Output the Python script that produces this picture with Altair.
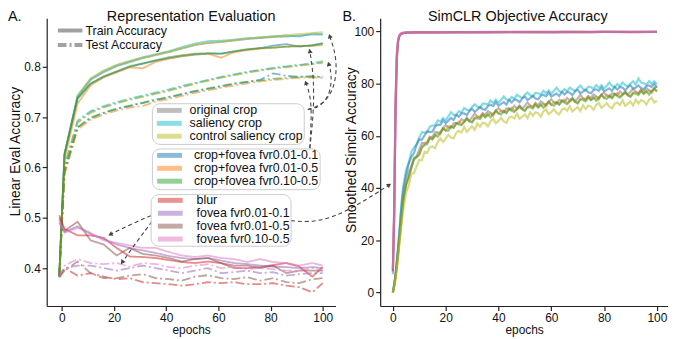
import altair as alt
import pandas as pd

FONT = "Liberation Sans"

# ---------------- Panel A data ----------------
EPOCHS_A = [-1, 1, 6, 11, 16, 21, 26, 31, 36, 41, 46, 51, 56, 61, 66, 71, 76, 81, 86, 91, 96, 100]

CROP_NAMES = ["original crop", "saliency crop", "control saliency crop"]
CROP_COLORS = ["#7f7f7f", "#17becf", "#bcbd22"]
CF_NAMES = ["crop+fovea fvr0.01-0.1", "crop+fovea fvr0.01-0.5", "crop+fovea fvr0.10-0.5"]
CF_COLORS = ["#1f77b4", "#ff7f0e", "#2ca02c"]
FOV_NAMES = ["blur", "fovea fvr0.01-0.1", "fovea fvr0.01-0.5", "fovea fvr0.10-0.5"]
FOV_COLORS = ["#d62728", "#9467bd", "#8c564b", "#e377c2"]

TRAIN = {
    "original crop": [0.385, 0.625, 0.740, 0.774, 0.789, 0.801, 0.809, 0.817, 0.823, 0.829, 0.836, 0.843, 0.847, 0.849, 0.852, 0.855, 0.857, 0.859, 0.860, 0.862, 0.864, 0.864],
    "saliency crop": [0.385, 0.627, 0.743, 0.776, 0.791, 0.803, 0.811, 0.819, 0.825, 0.831, 0.839, 0.846, 0.851, 0.852, 0.854, 0.857, 0.858, 0.861, 0.862, 0.860, 0.866, 0.865],
    "control saliency crop": [0.385, 0.622, 0.741, 0.777, 0.793, 0.804, 0.812, 0.818, 0.824, 0.830, 0.837, 0.844, 0.848, 0.850, 0.853, 0.856, 0.859, 0.860, 0.863, 0.865, 0.867, 0.869],
    "crop+fovea fvr0.01-0.1": [0.385, 0.624, 0.736, 0.766, 0.780, 0.790, 0.800, 0.806, 0.812, 0.817, 0.821, 0.824, 0.826, 0.826, 0.830, 0.834, 0.837, 0.842, 0.845, 0.840, 0.843, 0.847],
    "crop+fovea fvr0.01-0.5": [0.385, 0.615, 0.727, 0.763, 0.779, 0.789, 0.799, 0.797, 0.810, 0.816, 0.821, 0.825, 0.826, 0.818, 0.829, 0.833, 0.836, 0.838, 0.840, 0.841, 0.842, 0.843],
    "crop+fovea fvr0.10-0.5": [0.385, 0.628, 0.738, 0.767, 0.781, 0.791, 0.801, 0.807, 0.813, 0.819, 0.823, 0.826, 0.827, 0.826, 0.831, 0.835, 0.837, 0.838, 0.840, 0.841, 0.842, 0.846],
    "blur": [0.505, 0.478, 0.465, 0.465, 0.460, 0.440, 0.423, 0.422, 0.420, 0.416, 0.412, 0.410, 0.413, 0.410, 0.400, 0.400, 0.402, 0.406, 0.410, 0.403, 0.383, 0.402],
    "fovea fvr0.01-0.1": [0.490, 0.472, 0.483, 0.468, 0.458, 0.447, 0.440, 0.435, 0.430, 0.424, 0.420, 0.418, 0.420, 0.415, 0.410, 0.408, 0.405, 0.403, 0.402, 0.400, 0.402, 0.400],
    "fovea fvr0.01-0.5": [0.500, 0.474, 0.492, 0.455, 0.447, 0.425, 0.440, 0.428, 0.425, 0.420, 0.413, 0.418, 0.420, 0.410, 0.405, 0.405, 0.400, 0.405, 0.390, 0.395, 0.395, 0.395],
    "fovea fvr0.10-0.5": [0.495, 0.470, 0.480, 0.470, 0.455, 0.450, 0.445, 0.440, 0.440, 0.432, 0.425, 0.422, 0.425, 0.420, 0.418, 0.412, 0.418, 0.412, 0.410, 0.405, 0.410, 0.405],
}
TEST = {
    "original crop": [0.383, 0.600, 0.690, 0.710, 0.720, 0.728, 0.735, 0.741, 0.747, 0.753, 0.760, 0.767, 0.773, 0.779, 0.784, 0.789, 0.793, 0.797, 0.800, 0.803, 0.806, 0.809],
    "saliency crop": [0.383, 0.603, 0.693, 0.712, 0.722, 0.730, 0.737, 0.743, 0.749, 0.755, 0.762, 0.768, 0.774, 0.780, 0.785, 0.790, 0.794, 0.798, 0.801, 0.804, 0.807, 0.811],
    "control saliency crop": [0.383, 0.598, 0.688, 0.708, 0.719, 0.727, 0.734, 0.740, 0.746, 0.752, 0.759, 0.766, 0.772, 0.778, 0.783, 0.788, 0.792, 0.796, 0.799, 0.802, 0.805, 0.808],
    "crop+fovea fvr0.01-0.1": [0.383, 0.590, 0.679, 0.698, 0.708, 0.716, 0.722, 0.728, 0.734, 0.739, 0.745, 0.751, 0.756, 0.761, 0.766, 0.770, 0.774, 0.787, 0.782, 0.780, 0.781, 0.780],
    "crop+fovea fvr0.01-0.5": [0.383, 0.585, 0.675, 0.695, 0.705, 0.713, 0.719, 0.722, 0.731, 0.736, 0.742, 0.748, 0.753, 0.758, 0.763, 0.767, 0.771, 0.774, 0.776, 0.778, 0.779, 0.778],
    "crop+fovea fvr0.10-0.5": [0.383, 0.592, 0.680, 0.699, 0.709, 0.717, 0.723, 0.729, 0.735, 0.740, 0.746, 0.752, 0.757, 0.762, 0.767, 0.770, 0.773, 0.776, 0.778, 0.780, 0.781, 0.779],
    "blur": [0.382, 0.400, 0.385, 0.390, 0.383, 0.378, 0.380, 0.372, 0.370, 0.368, 0.365, 0.368, 0.372, 0.370, 0.372, 0.368, 0.368, 0.370, 0.365, 0.362, 0.352, 0.370],
    "fovea fvr0.01-0.1": [0.382, 0.400, 0.405, 0.405, 0.400, 0.395, 0.400, 0.405, 0.400, 0.395, 0.390, 0.395, 0.400, 0.390, 0.392, 0.395, 0.390, 0.392, 0.385, 0.388, 0.390, 0.390],
    "fovea fvr0.01-0.5": [0.382, 0.395, 0.413, 0.390, 0.380, 0.380, 0.385, 0.388, 0.380, 0.378, 0.375, 0.383, 0.386, 0.380, 0.378, 0.382, 0.375, 0.380, 0.372, 0.370, 0.378, 0.380],
    "fovea fvr0.10-0.5": [0.382, 0.405, 0.418, 0.410, 0.408, 0.410, 0.403, 0.410, 0.408, 0.402, 0.400, 0.405, 0.408, 0.400, 0.402, 0.398, 0.400, 0.398, 0.395, 0.395, 0.400, 0.395],
}
SPLITS = ["Train Accuracy", "Test Accuracy"]

# annotation arrows (in panel-A data units: epoch, accuracy)
ARROW_PATHS = {
    "a1": [(94.29, 0.7152), (99.62, 0.7231), (104.57, 0.7546), (105.71, 0.8138), (102.67, 0.8611)],
    "a2": [(94.29, 0.7152), (98.85, 0.7191), (103.04, 0.7467), (103.42, 0.7862), (102.28, 0.8059)],
    "a3": [(95.05, 0.6383), (96.57, 0.7112), (96.57, 0.7803), (95.05, 0.8316)],
    "a4": [(95.05, 0.6383), (95.81, 0.7112), (95.05, 0.7467), (93.53, 0.7684)],
    "a5": [(34.15, 0.5041), (27.67, 0.4903), (18.54, 0.4667)],
    "a6": [(34.53, 0.4923), (29.58, 0.4588), (23.11, 0.4114)],
    "a7": [(87.82, 0.4943), (96.19, 0.4903), (107.6, 0.5061), (125.5, 0.5653)],
}
ARROW_HEAD_ANGLE = {"a1": 342, "a2": 343, "a3": 351, "a4": 340, "a5": 243, "a6": 215, "a7": 57}

# ---------------- Panel B data ----------------
EPOCHS_B = [0, 0.5, 1, 1.5, 2, 2.5, 3, 3.5, 4] + list(range(5, 101))
SIM = {
    "saliency crop": [0, 3, 7, 12, 18, 24, 31, 37, 41,
        47.0, 49.6, 53.9, 55.5, 56.8, 59.3, 61.4, 61.2, 61.4, 63.5, 63.9, 64.0, 65.9, 65.4, 66.8, 65.9, 67.4, 69.0, 68.0, 67.9,
        69.4, 68.9, 70.6, 70.0, 69.7, 71.0, 72.1, 71.1, 70.7, 72.3, 72.3, 71.9, 73.5, 72.6, 73.8, 72.6, 73.8, 75.1, 73.9, 73.6,
        74.9, 74.2, 75.7, 75.0, 74.5, 75.7, 76.6, 75.5, 75.0, 76.4, 76.3, 75.8, 77.3, 76.3, 77.4, 76.1, 77.2, 78.4, 77.1, 76.7,
        77.9, 77.1, 78.5, 77.7, 77.2, 78.3, 79.2, 78.0, 77.4, 78.8, 78.6, 78.0, 79.4, 78.4, 79.4, 78.1, 79.2, 80.4, 79.1, 78.6,
        79.8, 79.0, 80.4, 79.5, 78.9, 80.0, 80.9, 79.6, 81.9, 80.4, 80.1, 79.6, 80.9, 79.9, 80.8, 79.8],
    "crop+fovea fvr0.01-0.1": [0, 2.8, 6.5, 11.5, 17, 23, 29.5, 35, 39.5,
        44.9, 49.3, 51.9, 53.4, 56.6, 58.6, 58.5, 60.1, 61.7, 61.4, 61.6, 63.5, 64.3, 64.2, 65.9, 64.8, 65.8, 66.8, 66.1, 68.0,
        67.3, 68.6, 68.6, 67.9, 69.5, 70.3, 69.2, 70.0, 71.0, 70.2, 70.0, 71.4, 71.9, 71.4, 72.9, 71.5, 72.2, 72.9, 72.0, 73.7,
        72.8, 73.9, 73.7, 72.9, 74.3, 75.0, 73.7, 74.4, 75.3, 74.3, 74.0, 75.3, 75.7, 75.1, 76.5, 75.0, 75.6, 76.2, 75.2, 76.8,
        75.8, 76.8, 76.5, 75.6, 77.0, 77.6, 76.3, 76.9, 77.7, 76.7, 76.3, 77.5, 77.8, 77.2, 78.5, 77.0, 77.6, 78.2, 77.2, 78.7,
        77.7, 78.7, 78.4, 77.4, 78.7, 79.3, 78.0, 78.5, 79.3, 78.3, 77.8, 79.1, 79.3, 78.7, 79.9, 78.4],
    "original crop": [0, 2.6, 6.2, 10.8, 16, 21.5, 27, 32, 36.5,
        41.4, 46.2, 48.1, 51.5, 52.1, 54.8, 57.3, 57.1, 57.6, 59.6, 59.5, 61.5, 61.3, 61.2, 62.8, 64.1, 63.3, 63.1, 64.8, 64.9,
        64.7, 66.4, 65.6, 66.9, 65.8, 67.1, 68.5, 67.4, 67.2, 68.6, 67.9, 69.5, 68.8, 68.3, 69.6, 70.6, 69.5, 69.0, 70.5, 70.4,
        70.0, 71.5, 70.5, 71.6, 70.4, 71.5, 72.8, 71.6, 71.2, 72.5, 71.7, 73.2, 72.4, 71.9, 73.0, 74.0, 72.8, 72.3, 73.7, 73.5,
        73.1, 74.5, 73.5, 74.6, 73.3, 74.4, 75.7, 74.4, 74.0, 75.2, 74.5, 75.9, 75.1, 74.5, 75.7, 76.6, 75.4, 74.8, 76.2, 76.1,
        75.6, 77.0, 76.0, 77.0, 75.8, 76.9, 78.1, 76.8, 76.4, 77.7, 76.9, 78.3, 77.5, 77.0, 78.1, 79.0],
    "crop+fovea fvr0.01-0.5": [0, 2.4, 5.8, 9.8, 14.5, 20, 25, 30, 35,
        42.2, 44.3, 47.8, 51.0, 51.9, 53.1, 55.7, 57.1, 57.4, 59.5, 58.7, 59.9, 61.1, 60.6, 62.7, 62.1, 63.5, 63.6, 63.0, 64.6,
        65.5, 64.5, 65.3, 66.4, 65.6, 65.4, 66.9, 67.4, 67.0, 68.5, 67.1, 67.9, 68.6, 67.7, 69.5, 68.6, 69.7, 69.5, 68.7, 70.1,
        70.8, 69.6, 70.2, 71.1, 70.2, 69.8, 71.2, 71.6, 71.0, 72.4, 70.9, 71.6, 72.2, 71.3, 72.9, 72.0, 73.0, 72.8, 71.9, 73.2,
        73.9, 72.6, 73.2, 74.1, 73.1, 72.7, 74.1, 74.4, 73.8, 75.1, 73.7, 74.3, 74.9, 73.9, 75.6, 74.6, 75.6, 75.3, 74.4, 75.8,
        76.4, 75.1, 75.7, 76.5, 75.6, 75.2, 76.5, 76.8, 76.2, 77.6, 76.1, 76.7, 77.3, 76.4, 78.0, 77.0],
    "crop+fovea fvr0.10-0.5": [0, 2.5, 6, 10, 15, 20.5, 25.5, 30.5, 35.5,
        41.0, 43.8, 47.8, 51.1, 51.8, 52.8, 55.5, 56.4, 56.8, 59.0, 58.7, 60.3, 59.6, 61.2, 62.9, 62.0, 62.0, 63.6, 63.1, 64.8,
        64.3, 64.0, 65.3, 66.5, 65.5, 65.1, 66.7, 66.7, 66.4, 68.0, 67.1, 68.3, 67.1, 68.3, 69.7, 68.5, 68.2, 69.5, 68.8, 70.3,
        69.6, 69.1, 70.2, 71.2, 70.1, 69.5, 71.0, 70.9, 70.4, 71.9, 70.9, 72.0, 70.7, 71.9, 73.1, 71.9, 71.5, 72.8, 72.0, 73.4,
        72.7, 72.1, 73.2, 74.2, 73.0, 72.4, 73.9, 73.7, 73.2, 74.6, 73.7, 74.7, 73.4, 74.5, 75.8, 74.5, 74.1, 75.3, 74.5, 76.0,
        75.2, 74.6, 75.7, 76.6, 75.5, 74.9, 76.3, 76.1, 75.6, 77.1, 76.1, 77.1, 75.8, 77.0, 78.2, 76.9],
    "control saliency crop": [0, 2, 5, 9, 13.5, 18.5, 23.5, 28, 32,
        38.2, 40.7, 45.4, 45.7, 48.4, 50.8, 50.6, 53.9, 53.5, 55.6, 55.9, 55.3, 57.7, 59.0, 57.6, 58.9, 60.4, 59.3, 59.0, 61.2,
        61.9, 61.3, 63.4, 61.5, 62.6, 63.6, 62.3, 64.7, 63.5, 65.0, 64.8, 63.6, 65.6, 66.5, 64.8, 65.7, 66.9, 65.5, 65.0, 66.9,
        67.4, 66.6, 68.5, 66.5, 67.3, 68.2, 66.8, 69.0, 67.7, 69.0, 68.7, 67.4, 69.3, 70.1, 68.3, 69.1, 70.2, 68.8, 68.2, 70.0,
        70.5, 69.6, 71.4, 69.3, 70.2, 71.0, 69.5, 71.7, 70.3, 71.6, 71.2, 70.0, 71.8, 72.6, 70.7, 71.5, 72.6, 71.1, 70.5, 72.3,
        72.7, 71.8, 73.6, 71.5, 72.3, 73.1, 71.6, 73.8, 72.4, 73.7, 73.3, 72.0, 73.8, 74.6, 72.7, 73.5],
}
EPOCHS_B_TOP = [0, 0.5, 1, 1.5, 2, 2.5, 3, 4, 5, 7, 10, 15, 20, 25, 30, 35, 40, 45, 50, 55, 60, 65, 70, 75, 80, 85, 90, 95, 100]
SIM_TOP = {
    "blur": [8.5, 30, 70, 90, 96.5, 98.3, 99.0, 99.4, 99.5, 99.6, 99.6, 99.7, 99.6, 99.7, 99.7, 99.6, 99.7, 99.8, 99.7, 99.7, 99.8, 99.7, 99.8, 99.7, 99.8, 99.8, 99.7, 99.8, 99.8],
    "fovea fvr0.01-0.1": [7.0, 28, 68, 89, 96.0, 98.2, 98.9, 99.3, 99.5, 99.5, 99.6, 99.6, 99.7, 99.6, 99.7, 99.7, 99.7, 99.7, 99.8, 99.7, 99.7, 99.8, 99.7, 99.8, 99.8, 99.7, 99.8, 99.8, 99.8],
    "fovea fvr0.01-0.5": [8.0, 31, 71, 91, 96.8, 98.4, 99.1, 99.4, 99.5, 99.6, 99.7, 99.6, 99.7, 99.7, 99.6, 99.7, 99.8, 99.7, 99.7, 99.8, 99.7, 99.8, 99.8, 99.7, 99.8, 99.8, 99.8, 99.7, 99.8],
    "fovea fvr0.10-0.5": [9.0, 33, 73, 92, 97.0, 98.5, 99.1, 99.5, 99.6, 99.6, 99.6, 99.7, 99.7, 99.6, 99.7, 99.8, 99.7, 99.7, 99.8, 99.8, 99.7, 99.8, 99.7, 99.8, 99.8, 99.8, 99.7, 99.8, 99.8],
}

for k, v in SIM.items():
    assert len(v) == len(EPOCHS_B), (k, len(v))
for k, v in SIM_TOP.items():
    assert len(v) == len(EPOCHS_B_TOP), (k, len(v))

# ---------------- build tables ----------------
def group_table(names):
    rows = []
    for n in names:
        for split, src in (("Train Accuracy", TRAIN), ("Test Accuracy", TEST)):
            for e, a in zip(EPOCHS_A, src[n]):
                rows.append({"epoch": e, "acc": a, "cond": n, "split": split})
    return pd.DataFrame(rows)

arrow_rows, head_rows = [], []
for aid, pts in ARROW_PATHS.items():
    for i, (e, a) in enumerate(pts):
        arrow_rows.append({"id": aid, "i": i, "epoch": e, "acc": a})
    head_rows.append({"id": aid, "epoch": pts[-1][0], "acc": pts[-1][1], "ang": ARROW_HEAD_ANGLE[aid]})
arrows_df = pd.DataFrame(arrow_rows)
heads_df = pd.DataFrame(head_rows)

b_rows = []
for n, vals in SIM.items():
    for e, v in zip(EPOCHS_B, vals):
        b_rows.append({"epoch": e, "acc": v, "cond": n})
for n, vals in SIM_TOP.items():
    for e, v in zip(EPOCHS_B_TOP, vals):
        b_rows.append({"epoch": e, "acc": v, "cond": n})
b_df = pd.DataFrame(b_rows)

ALL_NAMES = CROP_NAMES + CF_NAMES + FOV_NAMES
ALL_COLORS = CROP_COLORS + CF_COLORS + FOV_COLORS

# ---------------- scales / axes ----------------
xA = alt.Scale(domain=[-5.82, 104.9], nice=False, zero=False)
yA = alt.Scale(domain=[0.3247, 0.8966], nice=False, zero=False)
axA_x = alt.Axis(values=[0, 20, 40, 60, 80, 100], format="d", title="epochs", titleFontSize=12, titlePadding=1.5)
axA_y = alt.Axis(values=[0.4, 0.5, 0.6, 0.7, 0.8], format=".1f", title="Linear Eval Accuracy",
                 titleFontSize=14, titlePadding=1.2, titleY=134)

LINE_PATH = "M-2.5,0H7.5"
dash_scale = alt.Scale(domain=SPLITS, range=[[1, 0], [9, 3, 2, 3]])
dash_legend = alt.Legend(title=None, orient="none", legendX=11, legendY=6.25, symbolType=LINE_PATH,
                         symbolSize=25, symbolStrokeWidth=4, symbolStrokeColor="#8a8a8a",
                         symbolOpacity=0.8, labelOffset=15.5, rowPadding=1.5, padding=0, clipHeight=12.5,
                         strokeColor="transparent", fillColor="transparent")

PAD2 = "\u00a0\u00a0"


def color_legend(lx, ly, pad, sym_off, lab_off, extra):
    return alt.Legend(title=None, orient="none", legendX=lx, legendY=ly, symbolType=LINE_PATH,
                      symbolSize=25, symbolStrokeWidth=5, symbolOpacity=0.5, labelOffset=lab_off,
                      symbolOffset=sym_off, clipHeight=12.5, rowPadding=0, padding=pad,
                      labelExpr="datum.label + '" + extra + "'",
                      cornerRadius=8, strokeColor="#cccccc", fillColor="rgba(255,255,255,0.8)")


def group_layer(names, colors, legend):
    return alt.Chart(group_table(names)).mark_line(strokeWidth=1.8, opacity=0.55, clip=False).encode(
        x=alt.X("epoch:Q", scale=xA, axis=axA_x),
        y=alt.Y("acc:Q", scale=yA, axis=axA_y),
        color=alt.Color("cond:N", scale=alt.Scale(domain=names, range=colors), legend=legend),
        strokeDash=alt.StrokeDash("split:N", scale=dash_scale, legend=dash_legend),
    )


l_crop = group_layer(CROP_NAMES, CROP_COLORS, color_legend(106, 85.7, 1, 4, 20.5, PAD2))
l_cf = group_layer(CF_NAMES, CF_COLORS, color_legend(106, 131.3, 0.7, 4.6, 24.5, ""))
l_fov = group_layer(FOV_NAMES, FOV_COLORS, color_legend(104.7, 177.3, 0, 7.3, 26.5, PAD2))

arrows = alt.Chart(arrows_df).mark_line(strokeDash=[4, 3], color="#444444", strokeWidth=1.1,
                                        interpolate="basis", clip=False).encode(
    x=alt.X("epoch:Q", scale=xA), y=alt.Y("acc:Q", scale=yA), detail="id:N", order="i:Q")
heads = alt.Chart(heads_df).mark_point(shape="triangle-up", filled=True, size=26, color="#444444",
                                       opacity=1, clip=False).encode(
    x=alt.X("epoch:Q", scale=xA), y=alt.Y("acc:Q", scale=yA), angle=alt.Angle("ang:Q", scale=None))


def text_layer(txt, x, y, size, align):
    return alt.Chart(pd.DataFrame({"t": [txt]})).mark_text(
        align=align, baseline="top", fontSize=size, font=FONT, color="#111111").encode(
        text="t:N", x=alt.value(x), y=alt.value(y))


panel_a = alt.layer(
    l_crop, l_cf, l_fov, arrows, heads,
    text_layer("A.", -39, -8, 14.5, "left"),
    text_layer("Representation Evaluation", 145.5, -8, 14.5, "center"),
).resolve_scale(color="independent").properties(width=291, height=290)

# ---------------- Panel B ----------------
xB = alt.Scale(domain=[-4.8, 104.2], nice=False, zero=False)
yB = alt.Scale(domain=[-5.21, 105.06], nice=False, zero=False)
lines_b = alt.Chart(b_df).mark_line(strokeWidth=2.2, opacity=0.55, clip=False).encode(
    x=alt.X("epoch:Q", scale=xB, axis=alt.Axis(values=[0, 20, 40, 60, 80, 100], format="d", title="epochs",
                                                titleFontSize=12, titlePadding=1.5)),
    y=alt.Y("acc:Q", scale=yB, axis=alt.Axis(values=[0, 20, 40, 60, 80, 100], format="d",
                                              title="Smoothed Simclr Accuracy", titleFontSize=14,
                                              titlePadding=-4.5, titleY=132.5)),
    color=alt.Color("cond:N", scale=alt.Scale(domain=ALL_NAMES, range=ALL_COLORS), legend=None),
)

panel_b = alt.layer(
    lines_b,
    text_layer("B.", -38, -8, 14.5, "left"),
    text_layer("SimCLR Objective Accuracy", 138.7, -8, 14.5, "center"),
).properties(width=290, height=290)

chart = alt.hconcat(panel_a, panel_b, spacing=45, bounds="flush").properties(padding=0).configure_view(
    stroke=None
).configure_axis(
    domainColor="#222222", domainWidth=1.2, tickColor="#222222", tickWidth=1.2, tickSize=4.5,
    labelFont=FONT, labelFontSize=12, labelColor="#111111", labelPadding=2,
    titleFont=FONT, titleFontWeight="normal", titleColor="#111111", grid=False
).configure_legend(
    labelFont=FONT, labelFontSize=12.5, labelColor="#111111"
)

chart.save("out.html", embed_options={"renderer": "svg", "actions": False})
